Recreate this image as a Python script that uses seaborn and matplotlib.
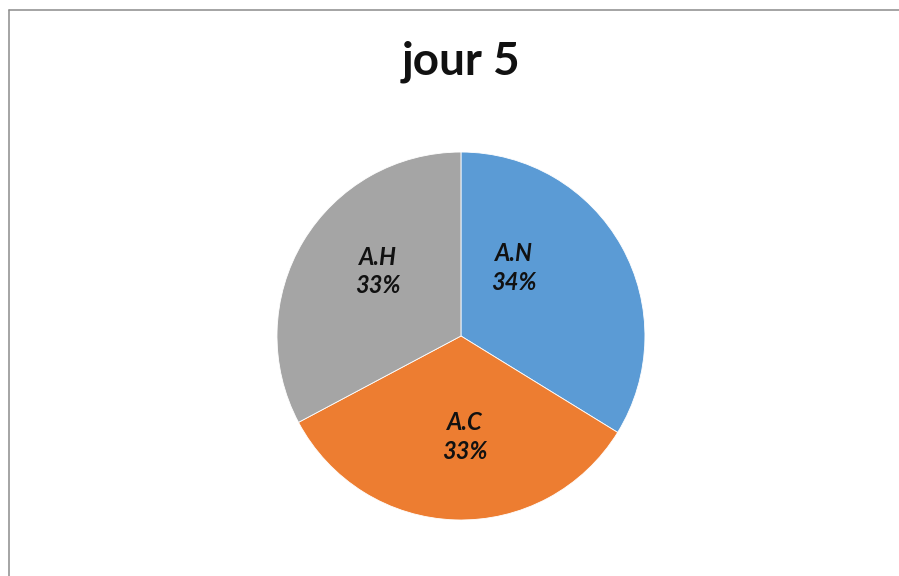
import matplotlib
matplotlib.use("Agg")
import matplotlib.pyplot as plt
import seaborn as sns
from matplotlib.lines import Line2D

title = "jour 5"
categories = ["A.N", "A.C", "A.H"]
values = [101, 100, 98]
colors = ["#5B9BD5", "#ED7D31", "#A5A5A5"]
# label centres in axes data units (pie radius = 1)
label_pos = [(0.29, 0.37), (0.02, -0.55), (-0.45, 0.35)]

sns.set_theme(style="white")
plt.rcParams['font.family'] = ['Lato', 'DejaVu Sans']

fig = plt.figure(figsize=(8.99, 5.76), dpi=100)
ax = fig.add_axes([0.3081, 0.0972, 0.4093, 0.6389])

wedges, _ = ax.pie(values, colors=colors, startangle=90, counterclock=False,
                   radius=1, wedgeprops=dict(linewidth=0.6, edgecolor="white"))
ax.set_xlim(-1, 1)
ax.set_ylim(-1, 1)
ax.set_aspect("equal")
ax.axis("off")

total = sum(values)
for name, v, (x, y) in zip(categories, values, label_pos):
    ax.text(x, y, f"{name}\n{round(100 * v / total)}%", ha="center", va="center",
            fontsize=17, fontweight="bold", fontstyle="italic", color="#111111",
            linespacing=1.3)

fig.text(0.5128, 1 - 62 / 576, title, ha="center", va="center",
         fontsize=33, fontweight="bold", color="#111111")

# chart frame (only left and top edges visible)
edge = "#8c8c8c"
fig.add_artist(Line2D([8.5 / 899, 8.5 / 899], [0, 1 - 9.5 / 576],
                      transform=fig.transFigure, color=edge, lw=1.1))
fig.add_artist(Line2D([8.5 / 899, 1], [1 - 9.5 / 576, 1 - 9.5 / 576],
                      transform=fig.transFigure, color=edge, lw=1.1))

fig.savefig("out.png", dpi=100, facecolor="white")
